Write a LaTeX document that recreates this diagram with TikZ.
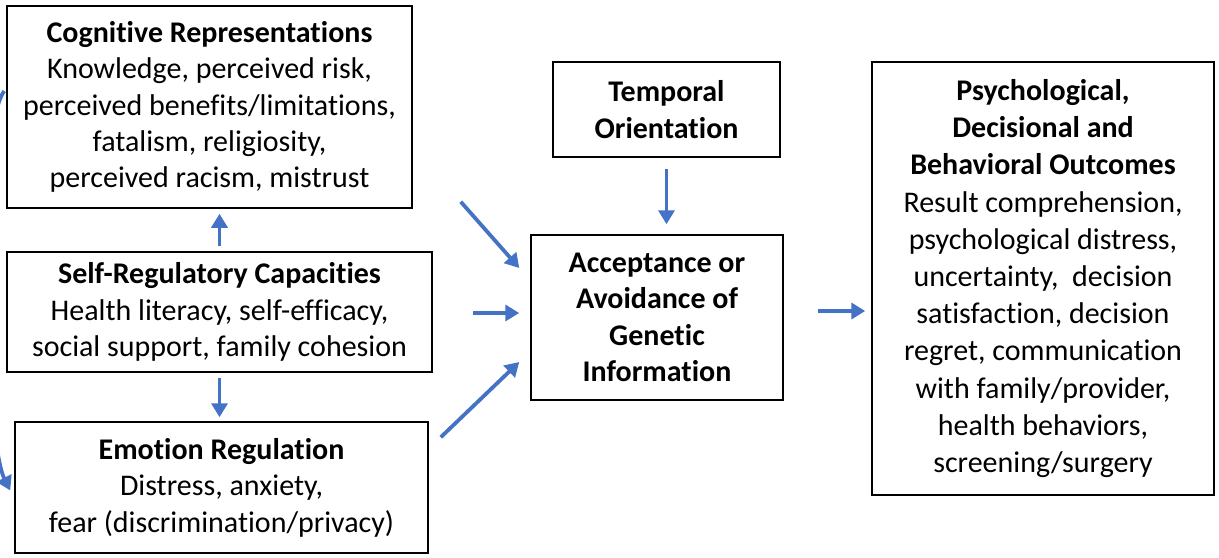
\documentclass[tikz,border=0pt]{standalone}
\usepackage{fontspec}
\setmainfont[Ligatures={NoCommon,NoContextual}]{Carlito}
\usetikzlibrary{arrows.meta,calc}
\definecolor{arrB}{RGB}{68,114,196}

\begin{document}
\begin{tikzpicture}[x={(0.5pt,0)},y={(0,-0.5pt)},
  box/.style={draw,line width=0.75pt,align=center,inner sep=0pt,font=\fontsize{15}{18.2}\selectfont},
  flow/.style={draw=arrB,line width=1.9pt,-{Triangle[length=7pt,width=8pt]}}]
\clip (0,0) rectangle (1219,557);
\useasboundingbox (0,0) rectangle (1219,557);
\node[box,minimum width=202.5pt,minimum height=101pt] (cogrep) at (209.5,107) {\textbf{Cognitive Representations}\\Knowledge, perceived risk,\\perceived benefits/limitations,\\fatalism, religiosity,\\perceived racism, mistrust};
\node[box,minimum width=212.5pt,minimum height=60pt] (selfreg) at (219.5,312) {\textbf{Self-Regulatory Capacities}\\Health literacy, self-efficacy,\\social support, family cohesion};
\node[box,minimum width=206.5pt,minimum height=65.5pt] (emoreg) at (221.5,487.5) {\textbf{Emotion Regulation}\\Distress, anxiety,\\fear (discrimination/privacy)};
\node[box,minimum width=113.5pt,minimum height=47.5pt] (temporal) at (666.5,109.5) {\textbf{Temporal}\\\textbf{Orientation}};
\node[box,minimum width=126pt,minimum height=82.5pt] (accept) at (657,317.5) {\textbf{Acceptance or}\\\textbf{Avoidance of}\\\textbf{Genetic}\\\textbf{Information}};
\node[box,minimum width=171pt,minimum height=216.5pt,font=\fontsize{15}{18.6}\selectfont] (outcome) at (1043,278.5) {\textbf{Psychological,}\\\textbf{Decisional and}\\\textbf{Behavioral Outcomes}\\Result comprehension,\\psychological distress,\\uncertainty,~ decision\\satisfaction, decision\\regret, communication\\with family/provider,\\health behaviors,\\screening/surgery};
% arrows
\draw[flow,shorten <=2.5pt,shorten >=2.5pt] (selfreg.north) -- (selfreg.north |- cogrep.south);
\draw[flow,shorten <=2.5pt,shorten >=2pt] (selfreg.south) -- (selfreg.south |- emoreg.north);
\draw[flow] ([shift={(48,-7)}]cogrep.south east) -- ([shift={(-11,-49.5)}]accept.west);
\draw[flow] ([shift={(40,1)}]selfreg.east) -- ([shift={(-11,-4.5)}]accept.west);
\draw[flow] ([shift={(12,16)}]emoreg.north east) -- ([shift={(-11,44.5)}]accept.west);
\draw[flow,shorten <=5.5pt,shorten >=5pt] (temporal.south) -- (temporal.south |- accept.north);
\draw[flow] ([shift={(34,-6.5)}]accept.east) -- ($(outcome.west |- accept.east)+(-6,-6.5)$);
\draw[flow] ([shift={(-2,-16)}]cogrep.west) .. controls +(-30,40) and +(-25,-50) .. ([shift={(-4,3)}]emoreg.west);
\end{tikzpicture}
\end{document}
